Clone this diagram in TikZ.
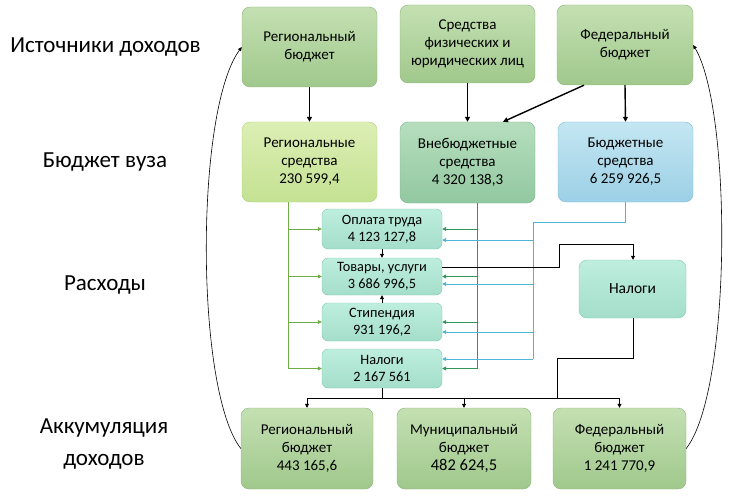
\documentclass[tikz,border=0pt]{standalone}
\usepackage{fontspec}
\setmainfont{Carlito}
\usetikzlibrary{arrows.meta,calc}
\definecolor{gtop}{RGB}{196,224,178}
\definecolor{gbot}{RGB}{160,200,140}
\definecolor{gdraw}{RGB}{140,180,118}
\definecolor{ytop}{RGB}{220,238,180}
\definecolor{ybot}{RGB}{196,226,146}
\definecolor{ydraw}{RGB}{176,208,128}
\definecolor{ttop}{RGB}{182,222,190}
\definecolor{tbot}{RGB}{146,200,160}
\definecolor{tdraw}{RGB}{120,180,140}
\definecolor{btop}{RGB}{196,230,242}
\definecolor{bbot}{RGB}{156,208,230}
\definecolor{bdraw}{RGB}{130,186,210}
\definecolor{atop}{RGB}{190,238,222}
\definecolor{abot}{RGB}{164,222,202}
\definecolor{adraw}{RGB}{130,200,176}
\definecolor{lgreen}{RGB}{112,173,71}
\definecolor{dgreen}{RGB}{50,150,90}
\definecolor{lblue}{RGB}{80,180,215}
\tikzset{
  box/.style={rounded corners=8pt, align=center, font=\fontsize{15}{18}\selectfont, inner sep=1pt},
  gbox/.style={box, draw=gdraw, top color=gtop, bottom color=gbot},
  ybox/.style={box, draw=ydraw, top color=ytop, bottom color=ybot},
  tbox/.style={box, draw=tdraw, top color=ttop, bottom color=tbot},
  bbox/.style={box, draw=bdraw, top color=btop, bottom color=bbot},
  abox/.style={box, draw=adraw, top color=atop, bottom color=abot, rounded corners=6pt, font=\fontsize{14.3}{17}\selectfont},
  lbl/.style={font=\fontsize{23}{32}\selectfont, align=center},
  thick arr/.style={line width=1.4pt, -{Triangle[length=5pt,width=5pt]}},
  arr/.style={line width=0.8pt, -{Triangle[length=4pt,width=4pt]}},
  gl/.style={draw=lgreen, line width=0.8pt},
  gla/.style={gl, -{Triangle[length=4pt,width=4pt]}, lgreen},
  dl/.style={draw=dgreen, line width=0.8pt},
  dla/.style={dl, -{Triangle[length=4pt,width=4pt]}, dgreen},
  bl/.style={draw=lblue, line width=0.8pt},
  bla/.style={bl, -{Triangle[length=4pt,width=4pt]}, lblue},
}
\begin{document}
\begin{tikzpicture}[x=1pt,y=-1pt]
\useasboundingbox (0,0) rectangle (730,497);
% left labels
\node[lbl] (l1) at (105.5,47) {Источники доходов};
\node[lbl] (l2) at (105,162) {Бюджет вуза};
\node[lbl] (l3) at (105,285) {Расходы};
\node[lbl] (l4) at (104,444) {Аккумуляция\\доходов};
% top row
\node[gbox, minimum width=135pt, minimum height=80pt] (tl) at (309.5,47) {Региональный\\бюджет};
\node[gbox, minimum width=135pt, minimum height=78pt] (tm) at (467.5,44) {Средства\\физических и\\юридических лиц};
\node[gbox, minimum width=136pt, minimum height=80pt] (tr) at (625,45) {Федеральный\\бюджет};
% second row
\node[ybox, minimum width=135pt, minimum height=80pt] (ml) at (309.5,162) {Региональные\\средства\\230 599,4};
\node[tbox, minimum width=135pt, minimum height=81pt] (mm) at (467.5,162.5) {Внебюджетные\\средства\\4 320 138,3};
\node[bbox, minimum width=135pt, minimum height=80pt] (mr) at (625.5,162) {Бюджетные\\средства\\6 259 926,5};
% expenses
\node[abox, minimum width=120pt, minimum height=40pt] (o) at (382,229) {Оплата труда\\4 123 127,8};
\node[abox, minimum width=120pt, minimum height=37pt] (t) at (382,276.5) {Товары, услуги\\3 686 996,5};
\node[abox, minimum width=120pt, minimum height=38pt] (s) at (382,322) {Стипендия\\931 196,2};
\node[abox, minimum width=120pt, minimum height=39pt] (n) at (382,368.5) {Налоги\\2 167 561};
\node[abox, rounded corners=8pt, font=\fontsize{15.5}{18}\selectfont, minimum width=107pt, minimum height=58pt] (nr) at (632.5,289) {Налоги};
% bottom row
\node[gbox, minimum width=132pt, minimum height=81pt] (bl) at (307,448.5) {Региональный\\бюджет\\443 165,6};
\node[gbox, minimum width=134pt, minimum height=81pt] (bm) at (464,448.5) {Муниципальный\\бюджет\\{\fontsize{16.5}{18}\selectfont 482 624,5}};
\node[gbox, minimum width=133pt, minimum height=81pt] (br) at (619.5,448.5) {Федеральный\\бюджет\\1 241 770,9};
% top arrows
\draw[thick arr] (tl.south) -- (ml.north);
\draw[thick arr] (tm.south) -- (mm.north);
\draw[thick arr] (tr.south) -- (mr.north);
\draw[thick arr] ([xshift=-41pt]tr.south) -- ([xshift=35.5pt]mm.north);
% light green (regional funds)
\coordinate (gx) at ([xshift=-21.5pt]ml.south);
\draw[gl] (gx) -- (gx |- n.west);
\foreach \b in {o,t,s,n} \draw[gla] (gx |- \b.west) -- (\b.west);
% dark green (extra-budget funds)
\coordinate (dx) at ([xshift=9.5pt]mm.south);
\draw[dl] (dx) -- (dx |- n.east);
\foreach \b in {o,t,s,n} \draw[dla] (dx |- \b.east) -- (\b.east);
% blue (budget funds)
\coordinate (bx) at (mr.south);
\coordinate (bc) at (533,222);
\coordinate (bd) at (533,359);
\draw[bl] (bx) |- (bc) -- (bd);
\draw[bla] (bc |- 0,240) -- (o.east |- 0,240);
\draw[bla] (bc |- 0,284) -- (t.east |- 0,284);
\draw[bla] (bc |- 0,332) -- (s.east |- 0,332);
\draw[bla] (bd) -- (n.east |- bd);
% black internal
\draw[arr] (o.south) -- (t.north);
\draw[arr] (s.north) -- (t.south);
\coordinate (tk1) at (559,267);
\coordinate (tk2) at (559,244);
\draw[arr] (t.east |- tk1) -- (tk1) -- (tk2) -| ([xshift=0.5pt]nr.north);
\coordinate (nk1) at (557,358);
\coordinate (bus) at (557,398);
\draw[line width=0.8pt] ([xshift=0.5pt]nr.south) |- (nk1) -- (bus);
\coordinate (busL) at (bl.north |- bus);
\coordinate (busR) at (br.north |- bus);
\draw[line width=0.8pt] (n.south) -- (n.south |- bus);
\draw[line width=0.8pt] (busL) -- (busR);
\draw[arr] (busL) -- (bl.north);
\draw[arr] (bm.north |- bus) -- (bm.north);
\draw[arr] (busR) -- (br.north);
% feedback curves
\draw[line width=0.6pt, -{Triangle[length=4pt,width=3.5pt]}] (bl.west) .. controls (195,390) and (195,110) .. (tl.west);
\draw[line width=0.6pt, -{Triangle[length=4pt,width=3.5pt]}] (br.east) .. controls (732,390) and (732,110) .. (tr.east);
\end{tikzpicture}
\end{document}
